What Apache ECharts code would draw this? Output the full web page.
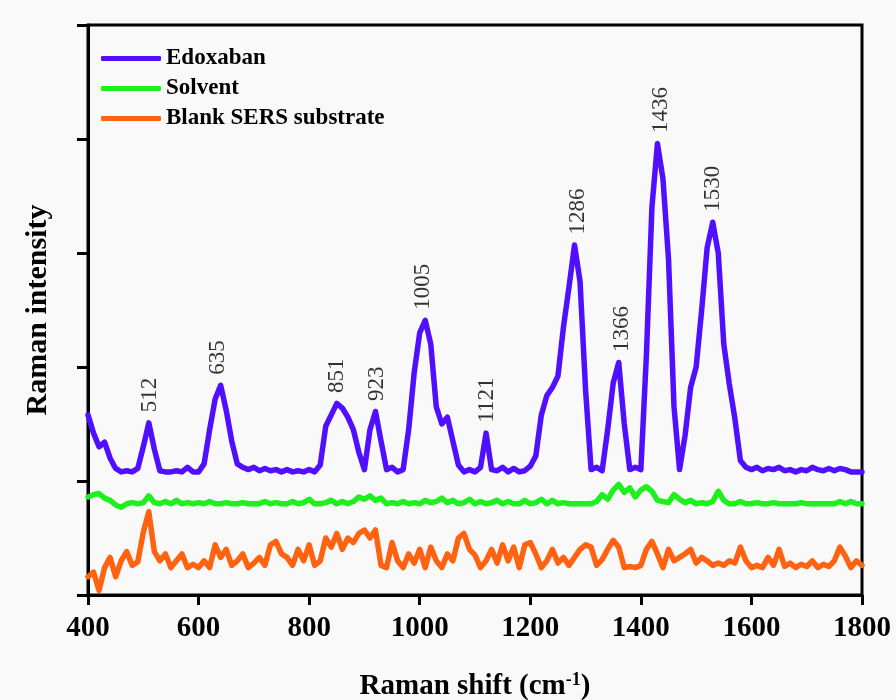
<!DOCTYPE html>
<html>
<head>
<meta charset="utf-8">
<script src="https://cdn.jsdelivr.net/npm/echarts@6/dist/echarts.min.js"></script>
<style>
html,body{margin:0;padding:0;background:#f9f9f9;}
#chart{width:896px;height:700px;}
</style>
</head>
<body>
<div id="chart"></div>
<script>
// Raman shift (cm-1)
var ramanShift = [400,410,420,430,440,450,460,470,480,490,500,510,520,530,540,550,560,570,580,590,600,610,620,630,640,650,660,670,680,690,700,710,720,730,740,750,760,770,780,790,800,810,820,830,840,850,860,870,880,890,900,910,920,930,940,950,960,970,980,990,1000,1010,1020,1030,1040,1050,1060,1070,1080,1090,1100,1110,1120,1130,1140,1150,1160,1170,1180,1190,1200,1210,1220,1230,1240,1250,1260,1270,1280,1290,1300,1310,1320,1330,1340,1350,1360,1370,1380,1390,1400,1410,1420,1430,1440,1450,1460,1470,1480,1490,1500,1510,1520,1530,1540,1550,1560,1570,1580,1590,1600,1610,1620,1630,1640,1650,1660,1670,1680,1690,1700,1710,1720,1730,1740,1750,1760,1770,1780,1790,1800];

var edoxaban = [1.58,1.42,1.30,1.34,1.20,1.11,1.08,1.09,1.08,1.11,1.30,1.51,1.28,1.09,1.08,1.08,1.09,1.08,1.12,1.08,1.08,1.15,1.45,1.72,1.84,1.62,1.35,1.15,1.12,1.10,1.12,1.09,1.11,1.09,1.10,1.08,1.10,1.08,1.09,1.08,1.10,1.08,1.14,1.48,1.58,1.68,1.64,1.56,1.45,1.25,1.10,1.45,1.61,1.35,1.10,1.12,1.08,1.10,1.45,1.95,2.30,2.41,2.20,1.65,1.50,1.56,1.35,1.14,1.08,1.10,1.08,1.12,1.42,1.10,1.09,1.12,1.08,1.11,1.08,1.09,1.13,1.22,1.58,1.75,1.82,1.92,2.35,2.70,3.07,2.75,1.80,1.10,1.12,1.09,1.45,1.86,2.04,1.50,1.10,1.12,1.10,2.10,3.40,3.96,3.65,2.95,1.65,1.10,1.40,1.82,2.00,2.50,3.05,3.27,3.00,2.20,1.85,1.55,1.18,1.12,1.10,1.12,1.09,1.11,1.10,1.12,1.09,1.10,1.08,1.10,1.09,1.12,1.10,1.09,1.11,1.09,1.11,1.10,1.08,1.08,1.08];

var solvent = [0.86,0.88,0.89,0.85,0.83,0.79,0.77,0.80,0.81,0.80,0.81,0.87,0.81,0.80,0.82,0.80,0.83,0.80,0.81,0.80,0.81,0.80,0.82,0.80,0.80,0.81,0.80,0.80,0.81,0.80,0.80,0.80,0.82,0.80,0.81,0.80,0.80,0.82,0.80,0.81,0.84,0.80,0.80,0.81,0.83,0.80,0.82,0.80,0.82,0.86,0.84,0.87,0.83,0.85,0.80,0.81,0.80,0.82,0.80,0.81,0.80,0.83,0.81,0.82,0.85,0.81,0.83,0.80,0.81,0.84,0.80,0.82,0.80,0.81,0.83,0.80,0.82,0.80,0.80,0.83,0.80,0.81,0.84,0.80,0.83,0.80,0.81,0.80,0.80,0.80,0.80,0.80,0.82,0.88,0.84,0.92,0.97,0.90,0.94,0.86,0.92,0.95,0.91,0.83,0.82,0.81,0.88,0.84,0.81,0.83,0.80,0.81,0.80,0.82,0.91,0.83,0.80,0.80,0.82,0.80,0.80,0.81,0.80,0.80,0.81,0.80,0.80,0.80,0.80,0.81,0.80,0.80,0.80,0.80,0.80,0.80,0.82,0.80,0.82,0.80,0.80];

var blankSERS = [0.16,0.20,0.04,0.24,0.33,0.16,0.30,0.38,0.26,0.29,0.55,0.73,0.38,0.30,0.36,0.24,0.30,0.36,0.24,0.27,0.24,0.30,0.24,0.44,0.33,0.40,0.26,0.30,0.36,0.24,0.28,0.33,0.26,0.44,0.47,0.36,0.33,0.26,0.40,0.30,0.44,0.26,0.30,0.50,0.42,0.54,0.40,0.50,0.46,0.54,0.57,0.50,0.57,0.26,0.24,0.46,0.30,0.24,0.36,0.28,0.40,0.24,0.42,0.30,0.24,0.36,0.30,0.50,0.54,0.40,0.35,0.24,0.30,0.40,0.28,0.44,0.30,0.42,0.24,0.44,0.46,0.36,0.24,0.30,0.40,0.28,0.33,0.26,0.33,0.40,0.44,0.42,0.26,0.31,0.40,0.48,0.42,0.24,0.25,0.24,0.26,0.40,0.47,0.36,0.24,0.40,0.30,0.33,0.36,0.40,0.28,0.33,0.30,0.26,0.28,0.26,0.30,0.28,0.42,0.30,0.24,0.26,0.24,0.33,0.26,0.40,0.25,0.28,0.24,0.27,0.25,0.30,0.24,0.27,0.25,0.30,0.42,0.34,0.24,0.30,0.26];

var peakLabels = [512,635,851,923,1005,1121,1286,1366,1436,1530];
var xTicks = [400,600,800,1000,1200,1400,1600,1800];

var seriesNames = ['Edoxaban','Solvent','Blank SERS substrate'];

function pairs(ys){ return ramanShift.map(function(x,i){ return [x, ys[i]]; }); }
function peakHeight(x){
  var m = 0;
  for (var i=0;i<ramanShift.length;i++){
    if (Math.abs(ramanShift[i]-x) <= 10 && edoxaban[i] > m) m = edoxaban[i];
  }
  return m;
}

var serif = '"Liberation Serif","Times New Roman",serif';
var chart = echarts.init(document.getElementById('chart'));
chart.setOption({
  backgroundColor: '#f9f9f9',
  animation: false,
  grid: {left: 88, right: 34, top: 25, bottom: 105, outerBoundsMode: 'none', containLabel: false,
    show: true, borderColor: '#000', borderWidth: 3, backgroundColor: 'transparent'},
  legend: {
    data: seriesNames,
    orient: 'vertical', left: 96, top: 42,
    itemWidth: 60, itemHeight: 5, itemGap: 7, icon: 'roundRect',
    textStyle: {fontFamily: serif, fontWeight: 'bold', fontSize: 23, color: '#000'}
  },
  xAxis: {
    type: 'value', min: 400, max: 1800, interval: 200,
    axisLine: {lineStyle: {color: '#000', width: 3}},
    axisTick: {length: 10, lineStyle: {color: '#000', width: 3}},
    axisLabel: {fontFamily: serif, fontWeight: 'bold', fontSize: 29, color: '#000', margin: 19,
      formatter: function(v){ return xTicks.indexOf(v) >= 0 ? String(v) : ''; }},
    splitLine: {show: false},
    name: '{a|Raman shift (cm}{s|-1}{a|)}',
    nameLocation: 'middle', nameGap: 76,
    nameTextStyle: {rich: {
      a: {fontFamily: serif, fontWeight: 'bold', fontSize: 29, color: '#000'},
      s: {fontFamily: serif, fontWeight: 'bold', fontSize: 18, color: '#000', padding: [0,0,14,0]}
    }}
  },
  yAxis: {
    type: 'value', min: 0, max: 5, interval: 1,
    axisLine: {lineStyle: {color: '#000', width: 3}},
    axisTick: {length: 11, lineStyle: {color: '#000', width: 3}},
    axisLabel: {show: false},
    splitLine: {show: false},
    name: 'Raman intensity', nameLocation: 'middle', nameGap: 35, nameRotate: 90,
    nameTextStyle: {fontFamily: serif, fontWeight: 'bold', fontSize: 30, color: '#000'}
  },
  series: [
    {name: seriesNames[0], type: 'line', data: pairs(edoxaban), showSymbol: false, color: '#5010ff',
      lineStyle: {width: 5.5, cap: 'round', join: 'round'}},
    {name: seriesNames[1], type: 'line', data: pairs(solvent), showSymbol: false, color: '#1ef01e',
      lineStyle: {width: 5.5, cap: 'round', join: 'round'}},
    {name: seriesNames[2], type: 'line', data: pairs(blankSERS), showSymbol: false, color: '#ff6210',
      lineStyle: {width: 5.5, cap: 'round', join: 'round'}},
    {name: 'peaks', type: 'scatter', symbolSize: 1, itemStyle: {color: 'rgba(0,0,0,0)'}, z: 5,
      data: peakLabels.map(function(x){ return [x, peakHeight(x)]; }),
      label: {show: true, position: 'top', distance: 10, rotate: 90, align: 'left', verticalAlign: 'middle',
        fontFamily: serif, fontSize: 23, color: '#000',
        formatter: function(p){ return String(p.value[0]); }}}
  ]
});
</script>
</body>
</html>
